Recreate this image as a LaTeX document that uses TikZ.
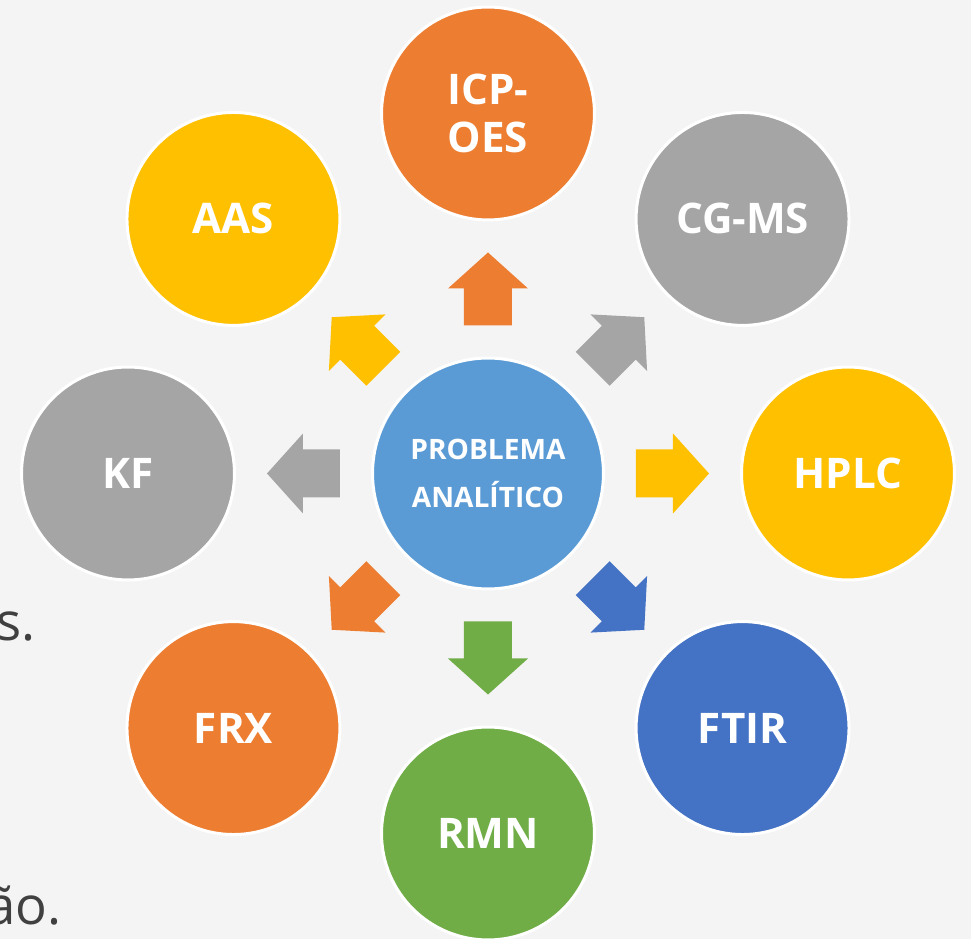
\documentclass[tikz,border=0pt]{standalone}
\usepackage{fontspec}
\setmainfont{Open Sans}
\usepackage{tikz}

\definecolor{pageBg}{HTML}{F4F4F4}
\definecolor{techOrange}{HTML}{ED7D31}
\definecolor{techGray}{HTML}{A5A5A5}
\definecolor{techYellow}{HTML}{FFC000}
\definecolor{techBlue}{HTML}{4472C4}
\definecolor{techGreen}{HTML}{70AD47}
\definecolor{probBlue}{HTML}{5B9BD5}
\definecolor{restGray}{HTML}{404040}

\begin{document}
\begin{tikzpicture}[x=0.02cm,y=0.02cm,
	method/.style={circle,draw=white,line width=0.6mm,minimum size=4.26cm,inner sep=0pt,
		text=white,align=center,font=\fontsize{24}{27}\selectfont\bfseries},
	problem/.style={circle,draw=white,line width=0.6mm,minimum size=4.62cm,inner sep=0pt,
		fill=probBlue,text=white,align=center,font=\fontsize{16}{27}\selectfont\bfseries},
	resttext/.style={anchor=base east,inner sep=0pt,text=restGray,font=\fontsize{30}{36}\selectfont}]
		\useasboundingbox (-488,-465.5) rectangle (483,473.5);
		\fill[pageBg] (-488,-465.5) rectangle (483,473.5);

		% text left over from the slide
		\node[resttext] (restA) at (-452,-167.5) {os.};
		\node[resttext] (restB) at (-426,-451.5) {ão.};

		\node[problem] (problema) at (0,0) {PROBLEMA\\ANALÍTICO};

		% methods round the problem
		\foreach \ang/\col/\name/\txt in {90/techOrange/icp/{ICP-\\OES}, 45/techGray/cgms/CG-MS,
			0/techYellow/hplc/HPLC, -45/techBlue/ftir/FTIR, -90/techGreen/rmn/RMN,
			-135/techOrange/frx/FRX, 180/techGray/kf/KF, 135/techYellow/aas/AAS}
		{
			\node[method,fill=\col] (\name) at (\ang:360) {\txt};
			\fill[\col,shift={(problema.center)},rotate=\ang] (148,-24) -- (185,-24) -- (185,-40) -- (221,0)
				-- (185,40) -- (185,24) -- (148,24) -- cycle;
		}
	\end{tikzpicture}
\end{document}
